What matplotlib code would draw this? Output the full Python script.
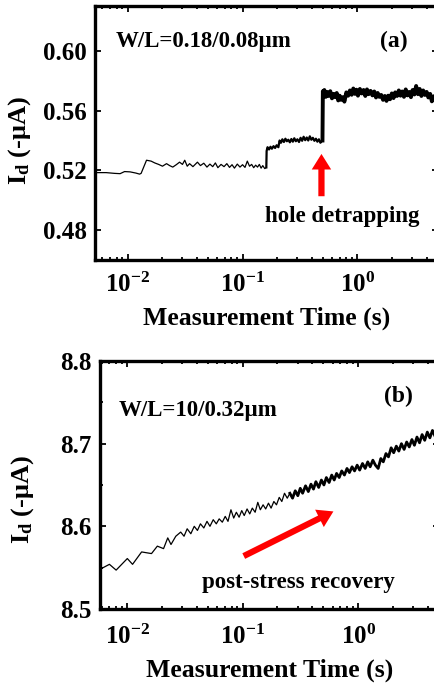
import matplotlib
matplotlib.use("Agg")
import matplotlib.pyplot as plt
from matplotlib.ticker import FixedLocator, LogLocator, NullFormatter, MultipleLocator

plt.rcParams['font.family'] = ['Liberation Serif', 'DejaVu Serif']
plt.rcParams['font.weight'] = 'bold'
plt.rcParams['mathtext.fontset'] = 'custom'
plt.rcParams['mathtext.rm'] = 'Liberation Serif:bold'
plt.rcParams['mathtext.bf'] = 'Liberation Serif:bold'
plt.rcParams['mathtext.it'] = 'Liberation Serif:bold'

# ---- panel (a): W/L = 0.18/0.08 um ----
a_t_low = [0.0052, 0.0065, 0.0077, 0.0086, 0.0094, 0.0105, 0.0118, 0.0127, 0.0131, 0.0146,
           0.0160, 0.0172, 0.0186, 0.0201, 0.0218, 0.0232, 0.0247, 0.0265, 0.0283, 0.0300,
           0.0314, 0.0330, 0.0346, 0.0370, 0.0405, 0.0430, 0.0460, 0.0490, 0.0520, 0.0550,
           0.0580, 0.0610, 0.0650, 0.0690, 0.0730, 0.0770, 0.0810, 0.0850, 0.0900, 0.0950,
           0.1000, 0.1050, 0.1100, 0.1150, 0.1200, 0.1250, 0.1300, 0.1350, 0.1400, 0.1450,
           0.1500, 0.1560, 0.1610]
a_i_low = [0.5185, 0.5185, 0.5180, 0.5178, 0.5192, 0.5190, 0.5182, 0.5175, 0.5180, 0.5268,
           0.5262, 0.5250, 0.5240, 0.5228, 0.5245, 0.5232, 0.5222, 0.5238, 0.5255, 0.5240,
           0.5268, 0.5228, 0.5245, 0.5225, 0.5255, 0.5232, 0.5248, 0.5222, 0.5242, 0.5225,
           0.5250, 0.5218, 0.5240, 0.5225, 0.5245, 0.5220, 0.5238, 0.5215, 0.5242, 0.5222,
           0.5238, 0.5220, 0.5262, 0.5228, 0.5240, 0.5218, 0.5235, 0.5222, 0.5240, 0.5215,
           0.5232, 0.5212, 0.5220]
a_t_mid = [0.162, 0.165, 0.170, 0.175, 0.180, 0.186, 0.192, 0.198, 0.205, 0.210,
           0.216, 0.222, 0.229, 0.236, 0.243, 0.250, 0.258, 0.266, 0.274, 0.282,
           0.291, 0.300, 0.310, 0.320, 0.330, 0.340, 0.351, 0.362, 0.373, 0.385,
           0.397, 0.409, 0.422, 0.435, 0.448, 0.462, 0.476, 0.488, 0.496]
a_i_mid = [0.5330, 0.5355, 0.5340, 0.5358, 0.5345, 0.5362, 0.5350, 0.5368, 0.5355, 0.5400,
           0.5385, 0.5408, 0.5390, 0.5412, 0.5395, 0.5405, 0.5388, 0.5410, 0.5392, 0.5415,
           0.5395, 0.5408, 0.5390, 0.5418, 0.5398, 0.5425, 0.5402, 0.5420, 0.5400, 0.5428,
           0.5405, 0.5418, 0.5398, 0.5412, 0.5392, 0.5408, 0.5385, 0.5395, 0.5400]
a_t_high = [0.500, 0.505, 0.515, 0.53, 0.545, 0.56, 0.58, 0.60, 0.62, 0.64,
            0.66, 0.68, 0.70, 0.72, 0.745, 0.77, 0.80, 0.83, 0.86, 0.89,
            0.92, 0.95, 0.98, 1.01, 1.05, 1.09, 1.13, 1.17, 1.21, 1.25,
            1.30, 1.35, 1.40, 1.45, 1.50, 1.55, 1.61, 1.67, 1.73, 1.79,
            1.85, 1.92, 1.99, 2.06, 2.13, 2.21, 2.29, 2.37, 2.45, 2.54,
            2.63, 2.72, 2.82, 2.92, 3.02, 3.13, 3.24, 3.36, 3.48, 3.60,
            3.73, 3.86, 4.00, 4.14, 4.29, 4.44, 4.60, 4.76, 4.93, 5.10]
a_i_high = [0.5730, 0.5705, 0.5738, 0.5692, 0.5725, 0.5698, 0.5730, 0.5682, 0.5712, 0.5690,
            0.5718, 0.5668, 0.5700, 0.5672, 0.5690, 0.5660, 0.5722, 0.5700, 0.5735, 0.5706,
            0.5748, 0.5712, 0.5740, 0.5700, 0.5745, 0.5715, 0.5738, 0.5698, 0.5742, 0.5710,
            0.5732, 0.5702, 0.5728, 0.5688, 0.5718, 0.5692, 0.5705, 0.5672, 0.5698, 0.5665,
            0.5700, 0.5676, 0.5715, 0.5684, 0.5722, 0.5698, 0.5735, 0.5700, 0.5728, 0.5692,
            0.5742, 0.5702, 0.5725, 0.5690, 0.5738, 0.5708, 0.5765, 0.5710, 0.5745, 0.5698,
            0.5735, 0.5705, 0.5725, 0.5688, 0.5712, 0.5662, 0.5696, 0.5670, 0.5720, 0.5695]

# ---- panel (b): W/L = 10/0.32 um ----
b_t_low = [0.0058, 0.0070, 0.0080, 0.0100, 0.0111, 0.0133, 0.0162, 0.0182, 0.0206, 0.0224,
           0.0239, 0.0263, 0.0290, 0.0310, 0.0330, 0.0355, 0.0380, 0.0405, 0.0430, 0.0460,
           0.0490, 0.0520, 0.0555, 0.0590, 0.0625, 0.0665, 0.0705, 0.0745, 0.0790, 0.0835,
           0.0880, 0.0930, 0.0980, 0.1030, 0.1090, 0.1150, 0.1210, 0.1280, 0.1350, 0.1420,
           0.1500, 0.1580, 0.1670, 0.1760, 0.1860, 0.1960, 0.2070, 0.2180, 0.2300, 0.2430,
           0.2560]
b_i_low = [8.548, 8.554, 8.547, 8.561, 8.554, 8.569, 8.567, 8.576, 8.573, 8.586,
           8.578, 8.588, 8.593, 8.588, 8.597, 8.591, 8.600, 8.595, 8.603, 8.598,
           8.606, 8.600, 8.608, 8.603, 8.609, 8.605, 8.612, 8.606, 8.620, 8.610,
           8.617, 8.611, 8.619, 8.613, 8.621, 8.615, 8.622, 8.617, 8.629, 8.620,
           8.626, 8.621, 8.628, 8.622, 8.630, 8.626, 8.635, 8.630, 8.640, 8.634,
           8.640]
b_t_high = [0.256, 0.27, 0.285, 0.30, 0.315, 0.33, 0.35, 0.37, 0.39, 0.41,
            0.43, 0.455, 0.48, 0.505, 0.53, 0.56, 0.59, 0.62, 0.65, 0.685,
            0.72, 0.76, 0.80, 0.84, 0.885, 0.93, 0.98, 1.03, 1.09, 1.15,
            1.21, 1.27, 1.34, 1.41, 1.49, 1.57, 1.65, 1.74, 1.83, 1.93,
            2.03, 2.14, 2.25, 2.37, 2.50, 2.63, 2.77, 2.92, 3.07, 3.23,
            3.40, 3.58, 3.77, 3.97, 4.18, 4.40, 4.63, 4.87, 5.10]
b_i_high = [8.640, 8.634, 8.643, 8.637, 8.646, 8.640, 8.649, 8.642, 8.651, 8.645,
            8.654, 8.647, 8.656, 8.650, 8.659, 8.653, 8.662, 8.656, 8.664, 8.659,
            8.667, 8.662, 8.670, 8.665, 8.672, 8.667, 8.674, 8.668, 8.676, 8.670,
            8.678, 8.672, 8.680, 8.674, 8.670, 8.682, 8.678, 8.688, 8.684, 8.695,
            8.689, 8.697, 8.691, 8.700, 8.693, 8.702, 8.696, 8.705, 8.698, 8.708,
            8.701, 8.711, 8.704, 8.714, 8.707, 8.716, 8.709, 8.717, 8.711]

x_ticks = [0.01, 0.1, 1]
x_ticklabels = [r'$\mathbf{10^{-2}}$', r'$\mathbf{10^{-1}}$', r'$\mathbf{10^{0}}$']
a_yticks = [0.48, 0.52, 0.56, 0.60]
b_yticks = [8.5, 8.6, 8.7, 8.8]


def style_axes(ax):
    ax.set_xscale('log')
    ax.set_xlim(0.0052, 5.0)
    ax.xaxis.set_major_locator(FixedLocator(x_ticks))
    ax.set_xticklabels(x_ticklabels)
    ax.xaxis.set_minor_locator(LogLocator(base=10, subs=range(2, 10)))
    ax.xaxis.set_minor_formatter(NullFormatter())
    for s in ax.spines.values():
        s.set_linewidth(2.4)
    ax.tick_params(which='both', direction='in', top=True, right=True, labelsize=18, width=1.3)
    ax.tick_params(which='major', length=4.5, pad=6)
    ax.tick_params(axis='x', which='major', pad=9)
    ax.tick_params(which='minor', length=2.5)
    ax.set_xlabel('Measurement Time (s)', fontsize=18.5, fontweight='bold', labelpad=7)
    ax.set_ylabel(r'$\mathbf{I_d}$ (-$\mathbf{\mu}$A)', fontsize=19, fontweight='bold')


fig = plt.figure(figsize=(4.35, 6.85), dpi=100)

ax1 = fig.add_axes([0.2184, 0.6204, 0.788, 0.3708])
ax1.plot(a_t_low, a_i_low, color='black', lw=0.9)
ax1.plot([a_t_low[-1]] + a_t_mid, [a_i_low[-1]] + a_i_mid, color='black', lw=1.6)
ax1.plot([a_t_mid[-1]] + a_t_high, [a_i_mid[-1]] + a_i_high, color='black', lw=2.8)
style_axes(ax1)
ax1.set_ylim(0.46, 0.63)
ax1.yaxis.set_major_locator(FixedLocator(a_yticks))
ax1.set_yticklabels(['%.2f' % v for v in a_yticks])
ax1.yaxis.set_label_coords(-0.18, 0.47)
ax1.text(0.06, 0.86, 'W/L=0.18/0.08\u00b5m', transform=ax1.transAxes, fontsize=16.5,
         fontweight='bold', va='center', ha='left')
ax1.text(0.872, 0.86, '(a)', transform=ax1.transAxes, fontsize=17, fontweight='bold',
         va='center', ha='center')
ax1.text(0.72, 0.17, 'hole detrapping', transform=ax1.transAxes, fontsize=16.5,
         fontweight='bold', va='center', ha='center')
ax1.annotate('', xy=(0.486, 0.531), xytext=(0.486, 0.5027),
             arrowprops=dict(arrowstyle='simple,head_length=0.8,head_width=1.0,tail_width=0.32',
                             color='red', mutation_scale=14, shrinkA=0, shrinkB=0, lw=0))

ax2 = fig.add_axes([0.2299, 0.111, 0.779, 0.362])
ax2.plot(b_t_low, b_i_low, color='black', lw=0.9)
ax2.plot([b_t_low[-1]] + b_t_high, [b_i_low[-1]] + b_i_high, color='black', lw=2.0)
style_axes(ax2)
ax2.set_xlim(0.0058, 5.0)
ax2.set_ylim(8.5, 8.8)
ax2.yaxis.set_major_locator(FixedLocator(b_yticks))
ax2.yaxis.set_minor_locator(MultipleLocator(0.05))
ax2.set_yticklabels(['%.1f' % v for v in b_yticks])
ax2.yaxis.set_label_coords(-0.19, 0.44)
ax2.tick_params(axis='x', which='major', pad=11)
ax2.xaxis.labelpad = 7
ax2.text(0.055, 0.80, 'W/L=10/0.32\u00b5m', transform=ax2.transAxes, fontsize=16.5,
         fontweight='bold', va='center', ha='left')
ax2.text(0.88, 0.857, '(b)', transform=ax2.transAxes, fontsize=17, fontweight='bold',
         va='center', ha='center')
ax2.text(0.585, 0.105, 'post-stress recovery', transform=ax2.transAxes, fontsize=16.5,
         fontweight='bold', va='center', ha='center')
ax2.annotate('', xy=(0.61, 8.618), xytext=(0.102, 8.564),
             arrowprops=dict(arrowstyle='simple,head_length=0.8,head_width=1.0,tail_width=0.32',
                             color='red', mutation_scale=14, shrinkA=0, shrinkB=0, lw=0))

fig.savefig('out.png', dpi=100)
